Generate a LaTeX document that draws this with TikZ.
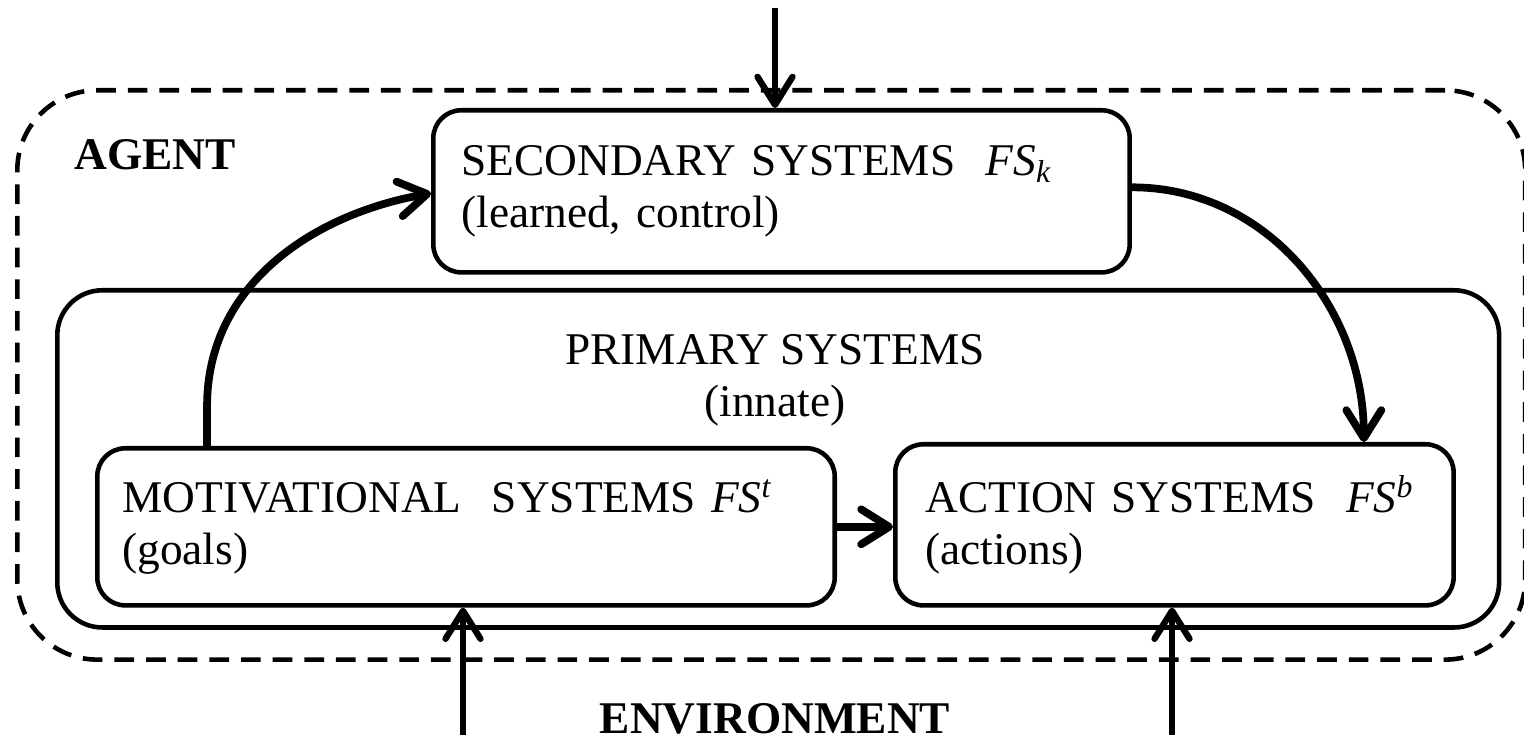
\documentclass[tikz,border=0pt]{standalone}
\usepackage{fontspec}
\setmainfont{Liberation Serif}
\usetikzlibrary{arrows.meta,positioning}

\begin{document}
\begin{tikzpicture}[x=0.01cm,y=-0.01cm,font=\fontsize{12.9}{14.8}\selectfont,
  box/.style={draw,line width=1.3pt,rounded corners=2.8mm,align=left,anchor=north west,inner ysep=0pt},
  frame/.style={draw,line width=1.3pt,anchor=north west,inner sep=0pt},
  arr/.style={line width=1.8pt,-{Straight Barb[length=2.8mm,width=3.5mm,round]}},
  carr/.style={arr,line width=2.2pt}]
\useasboundingbox (0,0) rectangle (1524,740);
\node[frame,dashed,dash pattern=on 5.6pt off 3.4pt,rounded corners=8mm,minimum width=15.07cm,minimum height=5.69cm] (agent) at (15,88) {};
\node[frame,rounded corners=4.5mm,minimum width=14.41cm,minimum height=3.37cm] (prim) at (55,288) {};
\node[box,text width=6.4cm,inner xsep=0.28cm,minimum height=1.62cm] (sec) at (431,108) {SECONDARY SYSTEMS\ \ \textit{FS}\textsubscript{\textit{k}}\\(learned, control)};
\node[box,text width=6.87cm,inner xsep=0.25cm,minimum height=1.57cm] (mot) at (95,446) {MOTIVATIONAL\ \ SYSTEMS \textit{FS}\textsuperscript{\textit{t}}\\(goals)};
\node[box,text width=4.98cm,inner xsep=0.30cm,minimum height=1.61cm] (act) at (893,442) {ACTION SYSTEMS\ \ \textit{FS}\textsuperscript{\textit{b}}\\(actions)};
\node[align=center] (primtitle) at (775,380) {PRIMARY SYSTEMS\\(innate)};
\node[anchor=base west,font=\fontsize{12.9}{14.8}\selectfont\bfseries] (agentlabel) at (62,170) {AGENT};
\node[anchor=base,inner sep=0pt,font=\fontsize{12.9}{14.8}\selectfont\bfseries] (env) at (775,733) {ENVIRONMENT};
\coordinate (topin) at (775,8);
\coordinate (envmot) at (463,735);
\coordinate (envact) at (1172,735);
\draw[arr](topin)--(topin |- sec.north);\draw[arr](envmot)--(envmot |- mot.south);\draw[arr](envact)--(envact |- act.south);
\draw[carr](mot.east)--(mot.east -| act.west);
\draw[carr]([xshift=1.12cm]mot.north west)--++(0,-40) to[out=90,in=190] ([yshift=-0.02cm]sec.west);
\draw[carr]([yshift=0.04cm]sec.east) to[out=0,in=90] ([xshift=-0.92cm]act.north east);
\end{tikzpicture}
\end{document}
